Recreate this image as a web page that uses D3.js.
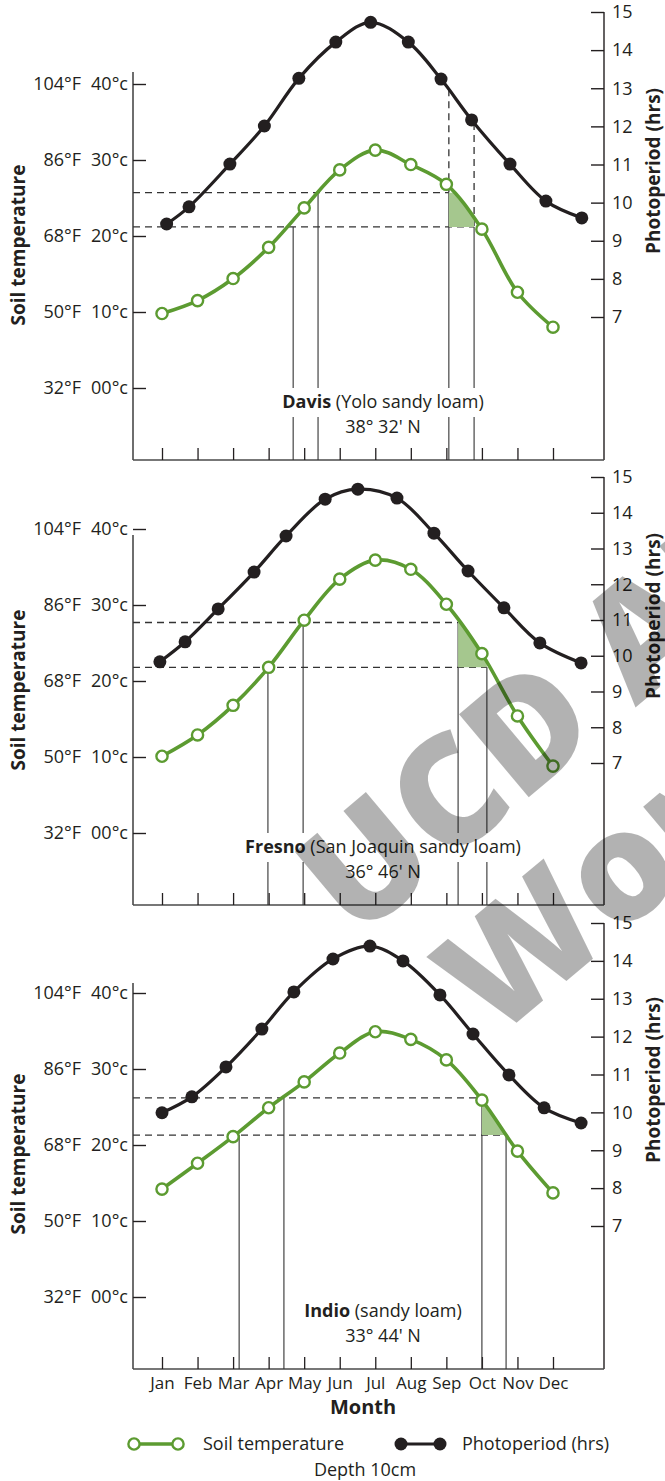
<!DOCTYPE html>
<html>
<head>
<meta charset="utf-8">
<script src="https://cdn.jsdelivr.net/npm/d3@7"></script>
<style>
  body { margin: 0; background: #fff; }
  svg { display: block; font-family: "Open Sans", sans-serif; }
</style>
</head>
<body>
<svg width="665" height="1481"></svg>
<script>
// month axis
const months = ["Jan", "Feb", "Mar", "Apr", "May", "Jun", "Jul", "Aug", "Sep", "Oct", "Nov", "Dec"];

// left axis (soil temperature, °C) and right axis (photoperiod, hrs)
const tempTicks = [0, 10, 20, 30, 40];
const tempLabelsF = ["32°F", "50°F", "68°F", "86°F", "104°F"];
const tempLabelsC = ["00°c", "10°c", "20°c", "30°c", "40°c"];
const hourTicks = [7, 8, 9, 10, 11, 12, 13, 14, 15];

// sites
const sites = ["Davis", "Fresno", "Indio"];
const soils = ["(Yolo sandy loam)", "(San Joaquin sandy loam)", "(sandy loam)"];
const latitudes = ["38° 32' N", "36° 46' N", "33° 44' N"];

// soil temperature at 10cm, °C, one value per month
const davisSoil  = [9.8, 11.5, 14.4, 18.5, 23.7, 28.7, 31.3, 29.4, 26.8, 20.9, 12.6, 8.0];
const fresnoSoil = [10.1, 12.9, 16.8, 21.8, 28.0, 33.4, 35.9, 34.7, 30.1, 23.6, 15.4, 8.8];
const indioSoil  = [14.2, 17.6, 21.1, 24.9, 28.3, 32.1, 34.9, 33.9, 31.2, 25.9, 19.2, 13.7];

// photoperiod: position in months (0 = Jan) and hours
const davisSunPos  = [0.13, 0.76, 1.91, 2.88, 3.85, 4.89, 5.87, 6.93, 7.85, 8.71, 9.79, 10.80, 11.81];
const davisSunHrs  = [9.44, 9.89, 11.01, 12.01, 13.26, 14.21, 14.73, 14.21, 13.24, 12.17, 11.01, 10.04, 9.60];
const fresnoSunPos = [-0.06, 0.65, 1.58, 2.59, 3.49, 4.59, 5.51, 6.61, 7.65, 8.61, 9.62, 10.63, 11.79];
const fresnoSunHrs = [9.83, 10.39, 11.31, 12.34, 13.35, 14.38, 14.66, 14.41, 13.43, 12.37, 11.34, 10.36, 9.80];
const indioSunPos  = [0.0, 0.84, 1.80, 2.81, 3.71, 4.81, 5.85, 6.78, 7.82, 8.75, 9.76, 10.75, 11.79];
const indioSunHrs  = [9.99, 10.41, 11.20, 12.20, 13.18, 14.05, 14.39, 14.00, 13.10, 12.07, 10.99, 10.12, 9.72];

// soil temperature window (°C, low / high) and the dates it is crossed
// [spring low, spring high, fall high, fall low] in months
const davisWindow  = [21.2, 25.7];
const fresnoWindow = [21.8, 27.7];
const indioWindow  = [21.3, 26.2];
const davisMarks  = [3.69, 4.39, 8.07, 8.78];
const fresnoMarks = [2.98, 3.97, 8.33, 9.14];
const indioMarks  = [2.17, 3.43, 9.00, 9.68];

const panels = [
  { soil: davisSoil, sunPos: davisSunPos, sunHrs: davisSunHrs, win: davisWindow, marks: davisMarks },
  { soil: fresnoSoil, sunPos: fresnoSunPos, sunHrs: fresnoSunHrs, win: fresnoWindow, marks: fresnoMarks },
  { soil: indioSoil, sunPos: indioSunPos, sunHrs: indioSunHrs, win: indioWindow, marks: indioMarks }
];

// layout
const layout = [
  { zero: 388, h15: 12, h7: 317, leftTop: 72, photoDash: true },
  { zero: 833, h15: 477, h7: 763, leftTop: 535, photoDash: false },
  { zero: 1297, h15: 923, h7: 1226, leftTop: 983, photoDash: false }
];
const xLeft = 133, xRight = 604;
const green = "#5c9b31", ink = "#231f20", axisCol = "#4a4a4a";

const svg = d3.select("svg");
const x = d3.scaleLinear().domain([0, 11]).range([162, 553]);

const samplePath = node => {
  const L = node.getTotalLength(), pts = [];
  for (let s = 0; s <= L; s += 0.5) {
    const p = node.getPointAtLength(s);
    pts.push([p.x, p.y]);
  }
  return pts;
};
const yAt = (pts, xv) => {
  for (let k = 1; k < pts.length; k++) {
    const a = pts[k - 1], b = pts[k];
    if ((a[0] - xv) * (b[0] - xv) <= 0 && a[0] !== b[0]) {
      return a[1] + (b[1] - a[1]) * (xv - a[0]) / (b[0] - a[0]);
    }
  }
  return pts[pts.length - 1][1];
};

panels.forEach((p, i) => {
  const L = layout[i];
  const bottom = L.zero + 72;
  const yT = d3.scaleLinear().domain([0, 40]).range([L.zero, L.zero - 304]);
  const yH = d3.scaleLinear().domain([7, 15]).range([L.h7, L.h15]);
  const g = svg.append("g");

  // axes lines
  g.append("line").attr("x1", xLeft).attr("x2", xLeft).attr("y1", L.leftTop).attr("y2", bottom)
    .attr("stroke", axisCol).attr("stroke-width", 1.6);
  g.append("line").attr("x1", xRight).attr("x2", xRight).attr("y1", L.h15).attr("y2", bottom)
    .attr("stroke", ink).attr("stroke-width", 1.4);
  g.append("line").attr("x1", xLeft).attr("x2", xRight).attr("y1", bottom).attr("y2", bottom)
    .attr("stroke", axisCol).attr("stroke-width", 1.6);

  // left axis
  const left = g.append("g").attr("transform", `translate(${xLeft},0)`)
    .call(d3.axisLeft(yT).tickValues(tempTicks).tickSizeInner(-13).tickSizeOuter(0).tickPadding(5)
      .tickFormat((d, j) => tempLabelsC[j]));
  left.select(".domain").remove();
  left.selectAll(".tick line").attr("stroke", ink).attr("stroke-width", 1.4);
  left.selectAll(".tick text").attr("fill", ink).attr("font-size", 18).attr("font-family", "Open Sans");
  left.selectAll(".tick").append("text")
    .attr("x", -52).attr("dy", "0.32em").attr("text-anchor", "end")
    .attr("fill", ink).attr("font-size", 18).attr("font-family", "Open Sans")
    .text((d, j) => tempLabelsF[j]);

  // right axis
  const right = g.append("g").attr("transform", `translate(${xRight},0)`)
    .call(d3.axisRight(yH).tickValues(hourTicks).tickSizeInner(-13).tickSizeOuter(0).tickPadding(8));
  right.select(".domain").remove();
  right.selectAll(".tick line").attr("stroke", ink).attr("stroke-width", 1.4);
  right.selectAll(".tick text").attr("fill", ink).attr("font-size", 18).attr("font-family", "Open Sans");

  // month ticks
  const bx = g.append("g").attr("transform", `translate(0,${bottom})`)
    .call(d3.axisBottom(x).tickValues(d3.range(12)).tickSizeInner(-12).tickSizeOuter(0).tickPadding(8)
      .tickFormat(j => i === 2 ? months[j] : ""));
  bx.select(".domain").remove();
  bx.selectAll(".tick line").attr("stroke", ink).attr("stroke-width", 1.3);
  bx.selectAll(".tick text").attr("fill", ink).attr("font-size", 17).attr("font-family", "Open Sans");

  // axis titles
  g.append("text")
    .attr("transform", `translate(25,${L.zero - 143}) rotate(-90)`)
    .attr("text-anchor", "middle").attr("font-weight", "bold").attr("font-size", 19).attr("fill", ink)
    .text("Soil temperature");
  g.append("text")
    .attr("transform", `translate(660,${L.zero - 217}) rotate(-90)`)
    .attr("text-anchor", "middle").attr("font-weight", "bold").attr("font-size", 19).attr("fill", ink)
    .text("Photoperiod (hrs)");

  // curves (built first so they can be sampled)
  const soilLine = d3.line().x((d, j) => x(j)).y(d => yT(d)).curve(d3.curveCatmullRom.alpha(0.5));
  const sun = p.sunPos.map((m, j) => [m, p.sunHrs[j]]);
  const sunLine = d3.line().x(d => x(d[0])).y(d => yH(d[1])).curve(d3.curveCatmullRom.alpha(0.5));

  const curves = g.append("g").attr("class", "curves");
  const soilPath = curves.append("path").datum(p.soil).attr("d", soilLine)
    .attr("fill", "none").attr("stroke", green).attr("stroke-width", 3.6);
  const sunPath = curves.append("path").datum(sun).attr("d", sunLine)
    .attr("fill", "none").attr("stroke", ink).attr("stroke-width", 3.2);
  const soilPts = samplePath(soilPath.node());
  const sunPts = samplePath(sunPath.node());

  const yLo = yT(p.win[0]), yHi = yT(p.win[1]);
  const [sLo, sHi, fHi, fLo] = p.marks.map(x);

  const guides = g.insert("g", ".curves");
  // dashed thresholds
  guides.selectAll("line.thr")
    .data([[yHi, fHi], [yLo, fLo]])
    .join("line")
      .attr("x1", xLeft).attr("x2", d => d[1])
      .attr("y1", d => d[0]).attr("y2", d => d[0])
      .attr("stroke", "#333").attr("stroke-width", 1.3).attr("stroke-dasharray", "7,5");
  // verticals down to the axis
  guides.selectAll("line.vert")
    .data([[sLo, yLo], [sHi, yHi], [fHi, yHi], [fLo, yLo]])
    .join("line")
      .attr("x1", d => d[0]).attr("x2", d => d[0])
      .attr("y1", d => d[1]).attr("y2", bottom)
      .attr("stroke", "#333").attr("stroke-width", 1.1);
  if (L.photoDash) {
    guides.selectAll("line.pdash")
      .data([[fHi, yHi], [fLo, yLo]])
      .join("line")
        .attr("x1", d => d[0]).attr("x2", d => d[0])
        .attr("y1", d => yAt(sunPts, d[0])).attr("y2", d => d[1])
        .attr("stroke", "#333").attr("stroke-width", 1.3).attr("stroke-dasharray", "7,5");
  }

  // site label with white backing over the verticals
  const lab = guides.append("g");
  const bg = lab.append("rect").attr("fill", "#fff");
  const t1 = lab.append("text").attr("x", 383).attr("y", L.zero + 20)
    .attr("text-anchor", "middle").attr("font-size", 18).attr("fill", ink);
  t1.append("tspan").attr("font-weight", "bold").text(sites[i]);
  t1.append("tspan").text(" " + soils[i]);
  const bb = t1.node().getBBox();
  bg.attr("x", bb.x - 4).attr("y", L.zero).attr("width", bb.width + 8).attr("height", 29);
  lab.append("text").attr("x", 383).attr("y", L.zero + 45)
    .attr("text-anchor", "middle").attr("font-size", 18).attr("fill", ink)
    .text(latitudes[i]);

  // shaded fall window
  const shade = [[fHi, Math.min(Math.max(yAt(soilPts, fHi), yHi), yLo)]];
  soilPts.filter(q => q[0] > fHi && q[0] < fLo)
    .forEach(q => shade.push([q[0], Math.min(Math.max(q[1], yHi), yLo)]));
  shade.push([fLo, yLo], [fHi, yLo]);
  g.insert("path", ".curves")
    .attr("d", d3.line()(shade))
    .attr("fill", "#a5c78e");

  // points
  g.append("g").selectAll("circle")
    .data(sun).join("circle")
      .attr("cx", d => x(d[0])).attr("cy", d => yH(d[1])).attr("r", 6.5)
      .attr("fill", ink);
  g.append("g").selectAll("circle")
    .data(p.soil).join("circle")
      .attr("cx", (d, j) => x(j)).attr("cy", d => yT(d)).attr("r", 5.6)
      .attr("fill", "#fff").attr("stroke", green).attr("stroke-width", 2.4);
});

// bottom titles and legend
svg.append("text").attr("x", 363).attr("y", 1414).attr("text-anchor", "middle")
  .attr("font-weight", "bold").attr("font-size", 20).attr("fill", ink).text("Month");

const legend = svg.append("g").attr("transform", "translate(0,1444)");
legend.append("line").attr("x1", 134).attr("x2", 178).attr("stroke", green).attr("stroke-width", 3.6);
legend.selectAll("circle.s").data([134, 178]).join("circle")
  .attr("cx", d => d).attr("r", 5.6).attr("fill", "#fff").attr("stroke", green).attr("stroke-width", 2.4);
legend.append("text").attr("x", 203).attr("y", 6).attr("font-size", 18).attr("fill", ink).text("Soil temperature");
legend.append("line").attr("x1", 401).attr("x2", 440).attr("stroke", ink).attr("stroke-width", 3.2);
legend.selectAll("circle.p").data([401, 440]).join("circle")
  .attr("cx", d => d).attr("r", 6.5).attr("fill", ink);
legend.append("text").attr("x", 462).attr("y", 6).attr("font-size", 18).attr("fill", ink).text("Photoperiod (hrs)");
svg.append("text").attr("x", 365).attr("y", 1476).attr("text-anchor", "middle")
  .attr("font-size", 18).attr("fill", ink).text("Depth 10cm");

// watermark
const wm = svg.append("g").attr("transform", "translate(356,942) rotate(-40)")
  .attr("font-weight", 800).attr("font-size", 152).attr("fill", "#000").attr("fill-opacity", 0.3);
wm.append("text").attr("x", 0).attr("y", 0).text("UCD ANR");
wm.append("text").attr("x", 42).attr("y", 165).text("Working");
</script>
</body>
</html>
